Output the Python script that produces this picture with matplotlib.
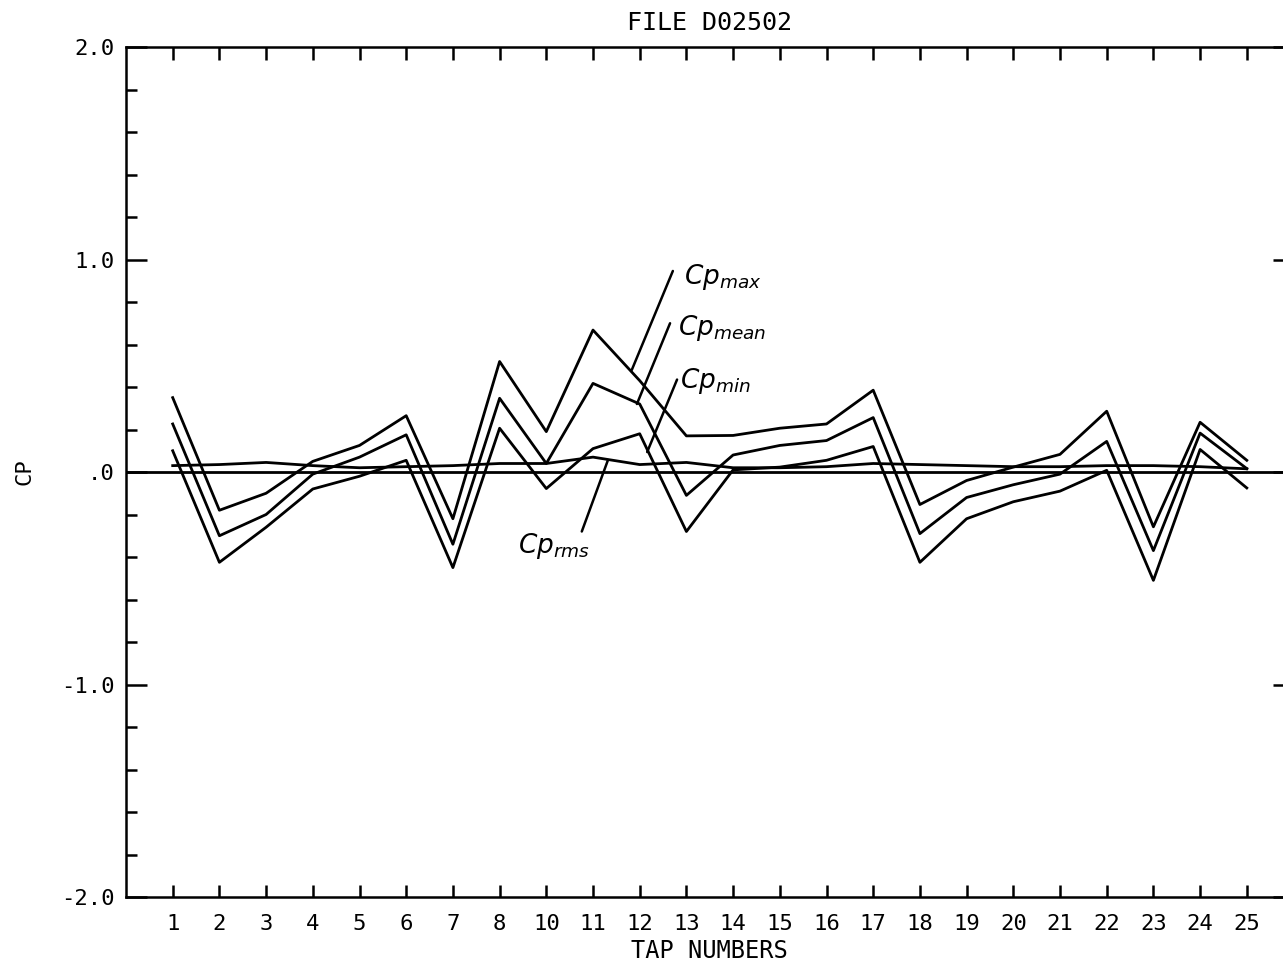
import matplotlib
matplotlib.use("Agg")
import matplotlib.pyplot as plt
import numpy as np

# Tap numbers as printed on the axis (tap 9 is not on the plot)
tap_labels = ["1", "2", "3", "4", "5", "6", "7", "8", "10", "11", "12", "13",
              "14", "15", "16", "17", "18", "19", "20", "21", "22", "23", "24", "25"]

cp_max = [0.35, -0.18, -0.10, 0.05, 0.125, 0.265, -0.22, 0.52, 0.19, 0.668, 0.43, 0.17,
          0.172, 0.206, 0.226, 0.385, -0.153, -0.04, 0.023, 0.083, 0.286, -0.258, 0.234, 0.055]
cp_mean = [0.226, -0.30, -0.20, -0.01, 0.07, 0.175, -0.34, 0.347, 0.04, 0.417, 0.32, -0.11,
           0.08, 0.125, 0.148, 0.256, -0.29, -0.12, -0.06, -0.01, 0.144, -0.37, 0.183, 0.016]
cp_min = [0.10, -0.425, -0.26, -0.08, -0.02, 0.055, -0.45, 0.206, -0.078, 0.11, 0.18, -0.28,
          0.01, 0.023, 0.055, 0.12, -0.425, -0.22, -0.14, -0.09, 0.008, -0.51, 0.106, -0.075]
cp_rms = [0.03, 0.035, 0.045, 0.03, 0.02, 0.025, 0.03, 0.04, 0.04, 0.07, 0.035, 0.045,
          0.02, 0.02, 0.025, 0.04, 0.035, 0.03, 0.025, 0.025, 0.03, 0.03, 0.025, 0.015]

plt.rcParams["font.family"] = ["DejaVu Sans Mono", "DejaVu Sans"]

fig = plt.figure(figsize=(12.83, 9.66), dpi=100)
ax = fig.add_axes([126 / 1283, 1 - 897 / 966, 1167.5 / 1283, 850 / 966])

x = np.arange(1, len(tap_labels) + 1)
lw = 2.0
for series in (cp_max, cp_mean, cp_min, cp_rms):
    ax.plot(x, series, color="black", lw=lw)
ax.axhline(0, color="black", lw=lw)

ax.set_xlim(0, 25)
ax.set_ylim(-2.0, 2.0)

ax.set_xticks(x)
ax.set_xticklabels(tap_labels, fontsize=16)
ax.set_yticks([-2.0, -1.0, 0.0, 1.0, 2.0])
ax.set_yticklabels(["-2.0", "-1.0", ".0", "1.0", "2.0"], fontsize=16)
ax.set_yticks(np.arange(-2.0, 2.01, 0.2), minor=True)

ax.tick_params(axis="x", direction="in", length=9, width=1.8, top=True, bottom=True, pad=12)
ax.tick_params(axis="y", which="major", direction="in", length=15, width=1.8,
               left=True, right=True, pad=8)
ax.tick_params(axis="y", which="minor", direction="in", length=8, width=1.8,
               left=True, right=True)
for s in ax.spines.values():
    s.set_linewidth(1.8)

ax.set_title("FILE D02502", fontsize=18, pad=12)
ax.set_xlabel("TAP NUMBERS", fontsize=17, labelpad=4)
ax.set_ylabel("CP", fontsize=16)
ax.yaxis.set_label_coords(-0.078, 0.5)

# handwritten labels with leader lines
notes = [
    (r"$\mathit{Cp}_{max}$", (10.83, 0.48), (11.71, 0.946), (11.95, 0.92)),
    (r"$\mathit{Cp}_{mean}$", (10.94, 0.32), (11.65, 0.70), (11.82, 0.68)),
    (r"$\mathit{Cp}_{min}$", (11.16, 0.094), (11.80, 0.435), (11.86, 0.43)),
    (r"$\mathit{Cp}_{rms}$", (9.76, -0.28), (10.32, 0.056), (8.39, -0.35)),
]
for label, p_curve, p_end, p_text in notes:
    ax.annotate("", xy=p_curve, xytext=p_end,
                arrowprops=dict(arrowstyle="-", lw=1.8, color="black",
                                shrinkA=0, shrinkB=0))
    ax.text(p_text[0], p_text[1], label, fontsize=19, ha="left", va="center")

fig.savefig("out.png", dpi=100)
